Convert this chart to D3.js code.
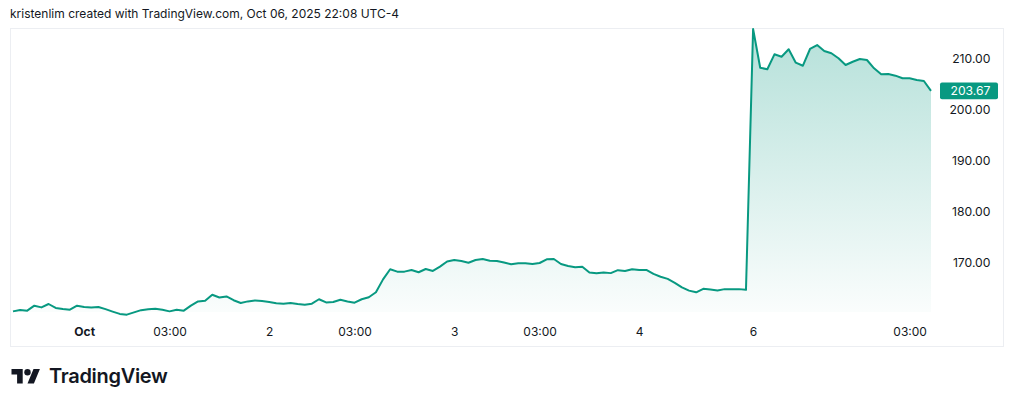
<!DOCTYPE html>
<html>
<head>
<meta charset="utf-8">
<script src="https://cdn.jsdelivr.net/npm/d3@7"></script>
<style>
  body { margin: 0; background: #fff; }
  svg { display: block; font-family: Inter, "Noto Sans", sans-serif; }
</style>
</head>
<body>
<div id="chart"></div>
<script>
// AMD, 15 min bars, regular session only (5 sessions x 26 bars)
var session1 = [160.54, 160.82, 160.68, 161.65, 161.32, 161.98, 161.20, 161.01, 160.87, 161.65, 161.40, 161.32, 161.40,
                160.97, 160.49, 160.04, 159.90, 160.35, 160.78, 160.97, 161.07, 160.87, 160.54, 160.87, 160.68, 161.65];
var session2 = [162.49, 162.62, 163.79, 163.26, 163.46, 162.72, 162.17, 162.49, 162.68, 162.56, 162.37, 162.14, 162.04,
                162.17, 161.98, 161.84, 162.04, 162.91, 162.29, 162.37, 162.82, 162.47, 162.23, 162.91, 163.30, 164.27];
var session3 = [166.80, 168.78, 168.31, 168.31, 168.64, 168.19, 168.83, 168.45, 169.28, 170.29, 170.58, 170.39, 170.06,
                170.58, 170.78, 170.45, 170.39, 170.10, 169.75, 169.94, 169.94, 169.81, 170.00, 170.72, 170.78, 169.81];
var session4 = [169.42, 169.17, 169.28, 168.16, 168.00, 168.16, 168.02, 168.60, 168.45, 168.78, 168.64, 168.64, 167.86,
                167.32, 166.89, 166.12, 165.24, 164.60, 164.27, 164.95, 164.80, 164.64, 164.89, 164.89, 164.89, 164.76];
var session5 = [215.77, 208.20, 207.89, 210.82, 210.35, 211.80, 209.18, 208.59, 211.86, 212.64, 211.47, 211.02, 210.04,
                208.73, 209.37, 209.90, 209.71, 208.08, 206.91, 206.97, 206.64, 206.13, 206.13, 205.79, 205.60, 203.67];

var prices = session1.concat(session2, session3, session4, session5);
var lastPrice = prices[prices.length - 1];

// bar index where each time label sits
var xTickIndex = [10, 22, 36, 48, 62, 74, 88, 104, 126];
var xTickLabels = ["Oct", "03:00", "2", "03:00", "3", "03:00", "4", "6", "03:00"];
var yTicks = [170, 180, 190, 200, 210];

var headerText = "kristenlim created with TradingView.com, Oct 06, 2025 22:08 UTC-4";

var width = 1014;
var height = 407;
var paneTop = 29;
var paneBottom = 312;
var lineColor = "#089981";
var textColor = "#131722";

var svg = d3.select("#chart")
    .append("svg")
    .attr("width", width)
    .attr("height", height);

// header line
svg.append("text")
    .attr("x", 10)
    .attr("y", 18)
    .attr("font-size", "12px")
    .attr("fill", textColor)
    .text(headerText);

// frame round the chart
svg.append("rect")
    .attr("x", 10.5)
    .attr("y", 28.5)
    .attr("width", 993)
    .attr("height", 318)
    .attr("fill", "#fff")
    .attr("stroke", "#eceef2");

var x = d3.scaleLinear()
    .domain([0, prices.length - 1])
    .range([13, 931]);

var y = d3.scaleLinear()
    .domain([170, 210])
    .range([263, 58.5]);

var defs = svg.append("defs");
var grad = defs.append("linearGradient")
    .attr("id", "areaFill")
    .attr("gradientUnits", "userSpaceOnUse")
    .attr("x1", 0).attr("x2", 0)
    .attr("y1", paneTop).attr("y2", paneBottom);
grad.append("stop").attr("offset", "0%").attr("stop-color", lineColor).attr("stop-opacity", 0.3);
grad.append("stop").attr("offset", "100%").attr("stop-color", lineColor).attr("stop-opacity", 0.02);

var area = d3.area()
    .x(function(d, i) { return x(i); })
    .y0(paneBottom)
    .y1(function(d) { return y(d); });

var line = d3.line()
    .x(function(d, i) { return x(i); })
    .y(function(d) { return y(d); });

svg.append("path")
    .datum(prices)
    .attr("d", area)
    .attr("fill", "url(#areaFill)");

svg.append("path")
    .datum(prices)
    .attr("d", line)
    .attr("fill", "none")
    .attr("stroke", lineColor)
    .attr("stroke-width", 2)
    .attr("stroke-linejoin", "round");

// price axis on the right
var yAxis = svg.append("g")
    .attr("transform", "translate(990.5,0)")
    .call(d3.axisLeft(y).tickValues(yTicks).tickFormat(d3.format(".2f")).tickSize(0).tickPadding(0));
yAxis.select(".domain").remove();
yAxis.selectAll("text")
    .attr("font-family", "Inter, sans-serif")
    .attr("font-size", "12.2px")
    .attr("fill", textColor);

// last price badge
var badge = svg.append("g").attr("transform", "translate(0," + y(lastPrice) + ")");
badge.append("rect")
    .attr("x", 940)
    .attr("y", -8.3)
    .attr("width", 58)
    .attr("height", 16.6)
    .attr("rx", 2)
    .attr("fill", lineColor);
badge.append("text")
    .attr("x", 990.5)
    .attr("dy", "0.34em")
    .attr("text-anchor", "end")
    .attr("font-size", "12.2px")
    .attr("fill", "#fff")
    .text(d3.format(".2f")(lastPrice));

// time axis
var xAxis = svg.append("g")
    .attr("transform", "translate(0,327)")
    .call(d3.axisBottom(x).tickValues(xTickIndex)
        .tickFormat(function(d, i) { return xTickLabels[i]; })
        .tickSize(0).tickPadding(0));
xAxis.select(".domain").remove();
xAxis.selectAll("text")
    .attr("font-family", "Inter, sans-serif")
    .attr("font-size", "12px")
    .attr("fill", textColor)
    .attr("font-weight", function(d, i) { return xTickLabels[i] == "Oct" ? 700 : 400; });

// TradingView logo
var logo = svg.append("g").attr("transform", "translate(11.5,365.8) scale(0.8)");
logo.append("path")
    .attr("d", "M14 22H7V11H0V4h14v18zM28 22h-8l7.5-18h8L28 22z")
    .attr("fill", textColor);
logo.append("circle")
    .attr("cx", 20).attr("cy", 8).attr("r", 4)
    .attr("fill", textColor);

svg.append("text")
    .attr("x", 49)
    .attr("y", 383)
    .attr("font-size", "20px")
    .attr("font-weight", 600)
    .attr("fill", textColor)
    .attr("letter-spacing", "-0.3px")
    .text("TradingView");
</script>
</body>
</html>
